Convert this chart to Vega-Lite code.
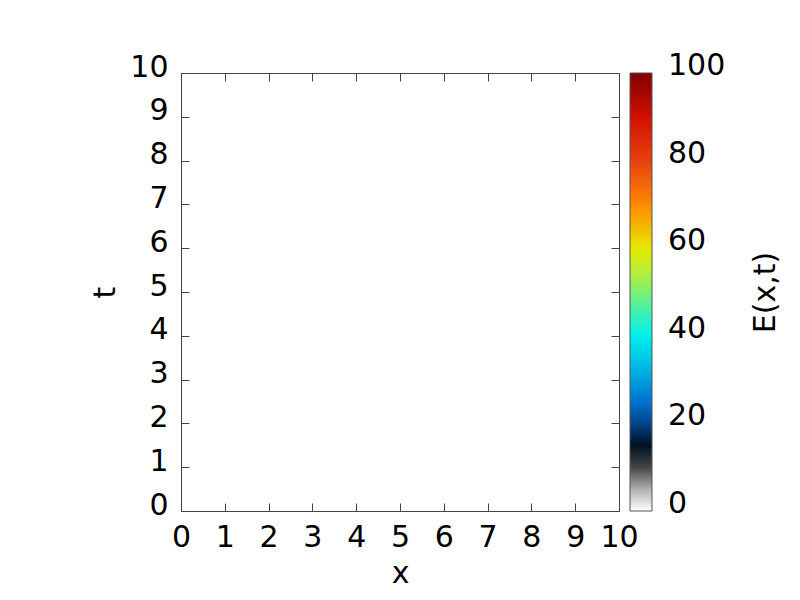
{
  "$schema": "https://vega.github.io/schema/vega-lite/v6.json",
  "width": 438,
  "height": 438,
  "autosize": {"type": "none"},
  "padding": {"left": 181, "top": 73, "right": 181, "bottom": 89},
  "background": "white",
  "data": {
    "values": [
      {"x": 0, "x2": 2, "t": 0, "t2": 2, "E": 0},
      {"x": 2, "x2": 4, "t": 0, "t2": 2, "E": 0},
      {"x": 4, "x2": 6, "t": 0, "t2": 2, "E": 0},
      {"x": 6, "x2": 8, "t": 0, "t2": 2, "E": 0},
      {"x": 8, "x2": 10, "t": 0, "t2": 2, "E": 0},
      {"x": 0, "x2": 2, "t": 2, "t2": 4, "E": 0},
      {"x": 2, "x2": 4, "t": 2, "t2": 4, "E": 0},
      {"x": 4, "x2": 6, "t": 2, "t2": 4, "E": 0},
      {"x": 6, "x2": 8, "t": 2, "t2": 4, "E": 0},
      {"x": 8, "x2": 10, "t": 2, "t2": 4, "E": 0},
      {"x": 0, "x2": 2, "t": 4, "t2": 6, "E": 0},
      {"x": 2, "x2": 4, "t": 4, "t2": 6, "E": 0},
      {"x": 4, "x2": 6, "t": 4, "t2": 6, "E": 0},
      {"x": 6, "x2": 8, "t": 4, "t2": 6, "E": 0},
      {"x": 8, "x2": 10, "t": 4, "t2": 6, "E": 0},
      {"x": 0, "x2": 2, "t": 6, "t2": 8, "E": 0},
      {"x": 2, "x2": 4, "t": 6, "t2": 8, "E": 0},
      {"x": 4, "x2": 6, "t": 6, "t2": 8, "E": 0},
      {"x": 6, "x2": 8, "t": 6, "t2": 8, "E": 0},
      {"x": 8, "x2": 10, "t": 6, "t2": 8, "E": 0},
      {"x": 0, "x2": 2, "t": 8, "t2": 10, "E": 0},
      {"x": 2, "x2": 4, "t": 8, "t2": 10, "E": 0},
      {"x": 4, "x2": 6, "t": 8, "t2": 10, "E": 0},
      {"x": 6, "x2": 8, "t": 8, "t2": 10, "E": 0},
      {"x": 8, "x2": 10, "t": 8, "t2": 10, "E": 0}
    ]
  },
  "layer": [
    {
      "mark": {"type": "rect", "strokeWidth": 0},
      "encoding": {
        "x": {
          "field": "x", "type": "quantitative",
          "scale": {"domain": [0, 10], "nice": false, "zero": false},
          "axis": {
            "orient": "bottom", "title": "x", "zindex": 2,
            "values": [0, 1, 2, 3, 4, 5, 6, 7, 8, 9, 10],
            "labelPadding": 19, "titlePadding": 6
          }
        },
        "x2": {"field": "x2"},
        "y": {
          "field": "t", "type": "quantitative",
          "scale": {"domain": [0, 10], "nice": false, "zero": false},
          "axis": {
            "orient": "left", "title": "t", "zindex": 2,
            "values": [0, 1, 2, 3, 4, 5, 6, 7, 8, 9, 10],
            "labelPadding": 21, "labelOffset": -6, "titlePadding": 9
          }
        },
        "y2": {"field": "t2"},
        "color": {
          "field": "E", "type": "quantitative",
          "scale": {
            "type": "linear",
            "domain": [0, 4, 8, 13.4, 15.7, 20.3, 24.8, 30.8, 39.9, 46.8, 53.6, 60.1, 68.8, 80.2, 90, 100],
            "range": ["#ffffff", "#c4c4c4", "#6e6e6e", "#000000", "#001830", "#004890", "#0070d0", "#00a8e0", "#00f0f0", "#50f0a0", "#b0f040", "#e8e800", "#ff9000", "#e84010", "#d01000", "#800000"],
            "interpolate": "rgb"
          },
          "legend": {
            "orient": "none", "legendX": 449, "legendY": 0,
            "title": null, "direction": "vertical",
            "gradientLength": 438, "gradientThickness": 22,
            "gradientStrokeColor": "#555555", "gradientStrokeWidth": 1,
            "values": [0, 20, 40, 60, 80, 100],
            "labelFontSize": 30, "labelOffset": 16, "labelColor": "#000000",
            "labelFont": "DejaVu Sans", "labelOverlap": false,
            "zindex": 2,
            "encode": {
              "labels": {"update": {"baseline": {"value": "middle"}, "dy": {"value": -7}}}
            }
          }
        }
      }
    },
    {
      "mark": {"type": "point", "opacity": 0},
      "encoding": {
        "x": {
          "field": "x", "type": "quantitative",
          "axis": {"orient": "top", "title": null, "labels": false, "zindex": 2,
                   "values": [0, 1, 2, 3, 4, 5, 6, 7, 8, 9, 10]}
        },
        "y": {
          "field": "t", "type": "quantitative",
          "axis": {"orient": "right", "title": "E(x,t)", "labels": false, "zindex": 2,
                   "values": [0, 1, 2, 3, 4, 5, 6, 7, 8, 9, 10],
                   "titleAngle": 270, "titleBaseline": "top", "titlePadding": 131}
        }
      }
    }
  ],
  "resolve": {"axis": {"x": "independent", "y": "independent"}},
  "config": {
    "font": "DejaVu Sans",
    "view": {"stroke": null},
    "axis": {
      "domain": true, "domainColor": "#444444", "domainWidth": 1,
      "grid": false,
      "ticks": true, "tickSize": -8, "tickColor": "#444444", "tickWidth": 1,
      "labelFontSize": 30, "labelColor": "#000000", "labelFont": "DejaVu Sans",
      "labelFlush": false, "labelOverlap": false,
      "titleFontSize": 30, "titleFontWeight": "normal", "titleColor": "#000000", "titleFont": "DejaVu Sans"
    }
  }
}
